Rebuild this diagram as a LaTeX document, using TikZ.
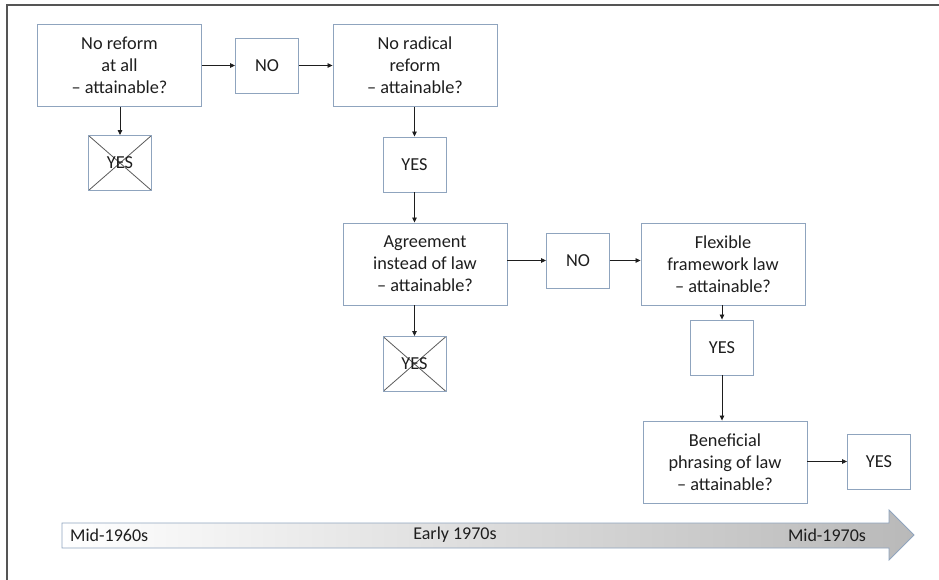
\documentclass[tikz,border=0pt]{standalone}
\usepackage{fontspec}
\setmainfont{Carlito}
\usetikzlibrary{arrows.meta}
\definecolor{boxblue}{RGB}{143,164,190}
\definecolor{crossgray}{RGB}{90,90,90}
\definecolor{inkgray}{RGB}{30,30,30}
\definecolor{framegray}{RGB}{85,85,85}

\begin{document}
\begin{tikzpicture}[x=1pt,y=-1pt]
\tikzstyle{every node}=[font=\fontsize{18.3}{22}\selectfont,text=inkgray,inner sep=0pt];
\tikzstyle{qbox}=[draw=boxblue,line width=0.9pt,align=center,minimum width=164pt,minimum height=82pt];
\tikzstyle{ansbox}=[draw=boxblue,line width=0.9pt,minimum width=63pt,minimum height=55pt];
\tikzstyle{crossed}=[ansbox,path picture={
	\draw[crossgray,line width=0.8pt] (path picture bounding box.north west) -- (path picture bounding box.south east)
	(path picture bounding box.south west) -- (path picture bounding box.north east);}];
\tikzstyle{link}=[-{Triangle[length=5pt,width=4.5pt]},line width=0.8pt,draw=inkgray];
\useasboundingbox (0,0) rectangle (939,580);
% frame
\draw[framegray,line width=2pt] (939,5) -- (7,5) -- (7,580);
% first row
\node[qbox] (noref) at (119.5,65.5) {No reform\\at all\\– attainable?};
\node[ansbox] (no1) at (267,65.5) {NO};
\node[qbox] (norad) at (415,65.5) {No radical\\reform\\– attainable?};
\node[crossed] (yesx1) at (120,163) {YES};
\node[ansbox] (yes2) at (414.5,164.5) {YES};
% second row
\node[qbox] (agree) at (425,264) {Agreement\\instead of law\\– attainable?};
\node[ansbox] (no2) at (578,260.5) {NO};
\node[qbox] (flex) at (723,264) {Flexible\\framework law\\– attainable?};
\node[crossed] (yesx3) at (414.5,364) {YES};
\node[ansbox] (yes4) at (722,347.5) {YES};
% third row
\node[qbox] (benef) at (725,462) {Beneficial\\phrasing of law\\– attainable?};
\node[ansbox] (yes5) at (879,461.5) {YES};
% connectors
\draw[link] (noref.east |- no1) -- (no1.west);
\draw[link] (no1.east) -- (norad.west |- no1);
\draw[link] (noref.south -| yesx1) -- (yesx1.north);
\draw[link] (norad.south -| yes2) -- (yes2.north);
\draw[link] (yes2.south) -- (agree.north -| yes2);
\draw[link] (agree.east |- no2) -- (no2.west);
\draw[link] (no2.east) -- (flex.west |- no2);
\draw[link] (agree.south -| yesx3) -- (yesx3.north);
\draw[link] (flex.south -| yes4) -- (yes4.north);
\draw[link] (yes4.south) -- (benef.north -| yes4);
\draw[link] (benef.east |- yes5) -- (yes5.west);
% timeline
\shade[left color=white,right color=gray!55,draw=boxblue,line width=0.8pt]
	(62,523) -- (889,523) -- (889,510) -- (914,535) -- (889,560) -- (889,548) -- (62,548) -- cycle;
\node[anchor=west,font=\fontsize{18}{22}\selectfont] (t1) at (70,535) {Mid-1960s};
\node[font=\fontsize{18}{22}\selectfont] (t2) at (455,535) {Early 1970s};
\node[font=\fontsize{18}{22}\selectfont] (t3) at (827,535) {Mid-1970s};
\end{tikzpicture}
\end{document}
